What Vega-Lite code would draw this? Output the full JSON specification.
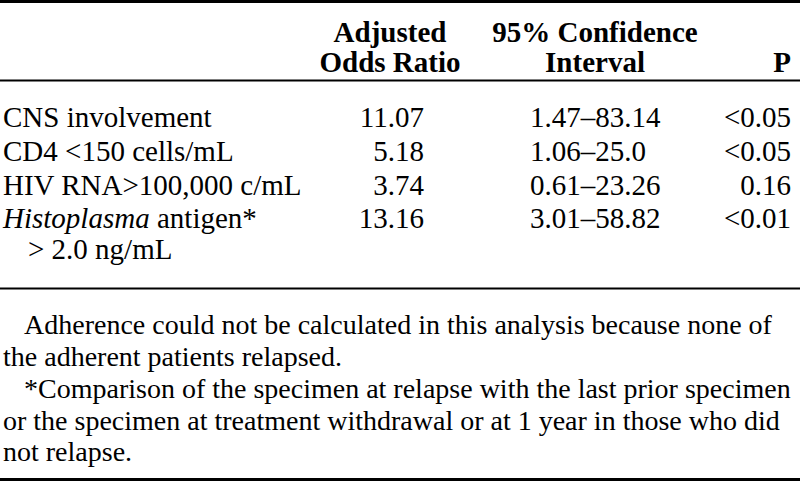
{
  "$schema": "https://vega.github.io/schema/vega-lite/v6.json",
  "width": 800,
  "height": 481,
  "padding": 0,
  "autosize": {"type": "none"},
  "background": "white",
  "config": {"view": {"stroke": null}, "text": {"font": "Liberation Serif", "fontSize": 29, "color": "#000"}},
  "datasets": {
    "rules": [
      {"line": 0, "kind": "thick"},
      {"line": 3, "kind": "thin"},
      {"line": 9, "kind": "thin"},
      {"line": 15, "kind": "thick"}
    ],
    "cells": [
      {"line": 1, "col": 1, "kind": "headOR", "text": "Adjusted"},
      {"line": 2, "col": 1, "kind": "headOR", "text": "Odds Ratio"},
      {"line": 1, "col": 2, "kind": "headCI", "text": "95% Confidence"},
      {"line": 2, "col": 2, "kind": "headCI", "text": "Interval"},
      {"line": 2, "col": 3, "kind": "headP", "text": "P"},
      {"line": 4, "col": 0, "kind": "label", "text": "CNS involvement"},
      {"line": 4, "col": 1, "kind": "or", "text": "11.07"},
      {"line": 4, "col": 2, "kind": "ci", "text": "1.47–83.14"},
      {"line": 4, "col": 3, "kind": "p", "text": "<0.05"},
      {"line": 5, "col": 0, "kind": "label", "text": "CD4 <150 cells/mL"},
      {"line": 5, "col": 1, "kind": "or", "text": "5.18"},
      {"line": 5, "col": 2, "kind": "ci", "text": "1.06–25.0"},
      {"line": 5, "col": 3, "kind": "p", "text": "<0.05"},
      {"line": 6, "col": 0, "kind": "label", "text": "HIV RNA>100,000 c/mL"},
      {"line": 6, "col": 1, "kind": "or", "text": "3.74"},
      {"line": 6, "col": 2, "kind": "ci", "text": "0.61–23.26"},
      {"line": 6, "col": 3, "kind": "p", "text": "0.16"},
      {"line": 7, "col": 0, "kind": "taxon", "text": "Histoplasma"},
      {"line": 7, "col": 0, "kind": "afterTaxon", "text": "antigen*"},
      {"line": 8, "col": 0, "kind": "cont", "text": "> 2.0 ng/mL"},
      {"line": 7, "col": 1, "kind": "or", "text": "13.16"},
      {"line": 7, "col": 2, "kind": "ci", "text": "3.01–58.82"},
      {"line": 7, "col": 3, "kind": "p", "text": "<0.01"},
      {"line": 10, "col": 0, "kind": "noteFirst", "text": "Adherence could not be calculated in this analysis because none of"},
      {"line": 11, "col": 0, "kind": "note", "text": "the adherent patients relapsed."},
      {"line": 12, "col": 0, "kind": "noteFirst", "text": "*Comparison of the specimen at relapse with the last prior specimen"},
      {"line": 13, "col": 0, "kind": "note", "text": "or the specimen at treatment withdrawal or at 1 year in those who did"},
      {"line": 14, "col": 0, "kind": "note", "text": "not relapse."}
    ]
  },
  "encoding": {
    "y": {
      "field": "line", "type": "quantitative", "axis": null,
      "scale": {
        "type": "linear", "nice": false, "zero": false,
        "domain": [0, 1, 2, 3, 4, 5, 6, 7, 8, 9, 10, 11, 12, 13, 14, 15],
        "range": [1.5, 42, 72, 80.5, 127, 161, 195, 228, 259, 288.5, 334, 366, 398, 430, 461, 479.5]
      }
    }
  },
  "layer": [
    {
      "data": {"name": "rules"},
      "transform": [{"filter": "datum.kind == 'thick'"}],
      "mark": {"type": "rule", "color": "#000", "strokeWidth": 3}
    },
    {
      "data": {"name": "rules"},
      "transform": [{"filter": "datum.kind == 'thin'"}],
      "mark": {"type": "rule", "color": "#000", "strokeWidth": 2}
    },
    {
      "data": {"name": "cells"},
      "encoding": {
        "x": {
          "field": "col", "type": "quantitative", "axis": null,
          "scale": {"type": "linear", "nice": false, "zero": false, "domain": [0, 1, 2, 3], "range": [3, 424, 530, 791]}
        },
        "text": {"field": "text"}
      },
      "layer": [
        {"transform": [{"filter": "datum.kind == 'headOR'"}], "mark": {"type": "text", "align": "center", "baseline": "alphabetic", "fontWeight": "bold", "dx": -34}},
        {"transform": [{"filter": "datum.kind == 'headCI'"}], "mark": {"type": "text", "align": "center", "baseline": "alphabetic", "fontWeight": "bold", "dx": 65}},
        {"transform": [{"filter": "datum.kind == 'headP'"}], "mark": {"type": "text", "align": "right", "baseline": "alphabetic", "fontWeight": "bold"}},
        {"transform": [{"filter": "datum.kind == 'label'"}], "mark": {"type": "text", "align": "left", "baseline": "alphabetic"}},
        {"transform": [{"filter": "datum.kind == 'taxon'"}], "mark": {"type": "text", "align": "left", "baseline": "alphabetic", "fontStyle": "italic"}},
        {"transform": [{"filter": "datum.kind == 'afterTaxon'"}], "mark": {"type": "text", "align": "left", "baseline": "alphabetic", "dx": 154}},
        {"transform": [{"filter": "datum.kind == 'cont'"}], "mark": {"type": "text", "align": "left", "baseline": "alphabetic", "dx": 25}},
        {"transform": [{"filter": "datum.kind == 'or'"}], "mark": {"type": "text", "align": "right", "baseline": "alphabetic"}},
        {"transform": [{"filter": "datum.kind == 'ci'"}], "mark": {"type": "text", "align": "left", "baseline": "alphabetic"}},
        {"transform": [{"filter": "datum.kind == 'p'"}], "mark": {"type": "text", "align": "right", "baseline": "alphabetic"}},
        {"transform": [{"filter": "datum.kind == 'noteFirst'"}], "mark": {"type": "text", "align": "left", "baseline": "alphabetic", "fontSize": 28, "dx": 21}},
        {"transform": [{"filter": "datum.kind == 'note'"}], "mark": {"type": "text", "align": "left", "baseline": "alphabetic", "fontSize": 28}}
      ]
    }
  ]
}
